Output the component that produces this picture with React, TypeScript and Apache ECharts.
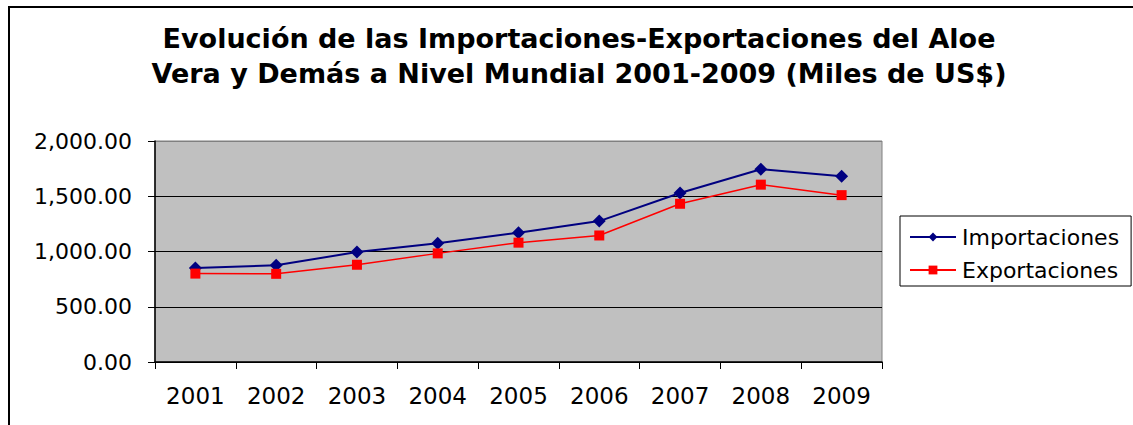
import React, { useEffect, useRef } from "react";
import * as echarts from "echarts";

const years = ["2001", "2002", "2003", "2004", "2005", "2006", "2007", "2008", "2009"];
const importaciones = [850, 875, 995, 1075, 1170, 1275, 1530, 1745, 1680];
const exportaciones = [800, 798, 880, 983, 1080, 1145, 1432, 1605, 1510];
const yTicks = { min: 0, max: 2000, interval: 500 };
const titleText =
  "Evolución de las Importaciones-Exportaciones del Aloe\nVera y Demás a Nivel Mundial 2001-2009 (Miles de US$)";

function fmt(v: number): string {
  const s = v.toFixed(2);
  const [i, d] = s.split(".");
  return i.replace(/\B(?=(\d{3})+(?!\d))/g, ",") + "." + d;
}

export default function App() {
  const ref = useRef<HTMLDivElement>(null);
  useEffect(() => {
    document.body.style.margin = "0";
    if (!ref.current) return;
    const chart = echarts.init(ref.current, undefined, { renderer: "svg" });
    chart.setOption({
      animation: false,
      backgroundColor: "#fff",
      title: {
        text: titleText,
        left: 574,
        top: 16,
        textAlign: "center",
        textStyle: {
          fontFamily: "DejaVu Sans",
          fontWeight: "bold",
          fontSize: 27,
          lineHeight: 35,
          color: "#000",
        },
      },
      graphic: [
        {
          type: "rect",
          shape: { x: 9, y: 7, width: 1200, height: 500 },
          style: { fill: "none", stroke: "#000", lineWidth: 2 },
          silent: true,
        },
      ],
      legend: {
        left: 900,
        top: 216,
        orient: "vertical",
        itemWidth: 46,
        itemHeight: 11,
        itemGap: 9,
        padding: [9, 12, 4, 9],
        borderColor: "#000",
        borderWidth: 1,
        backgroundColor: "#fff",
        textStyle: {
          fontFamily: "DejaVu Sans",
          fontSize: 22,
          lineHeight: 24,
          color: "#000",
          padding: [0, 0, 0, 1],
        },
        data: ["Importaciones", "Exportaciones"],
      },
      grid: {
        left: 155,
        top: 141,
        right: 251,
        bottom: 63,
        show: true,
        backgroundColor: "#C0C0C0",
        borderColor: "#808080",
        borderWidth: 1,
      },
      xAxis: {
        type: "category",
        data: years,
        boundaryGap: true,
        axisLine: { show: true, lineStyle: { color: "#000", width: 1.5 } },
        axisTick: { show: true, length: 7, interval: 0, lineStyle: { color: "#000" } },
        axisLabel: {
          fontFamily: "DejaVu Sans",
          fontSize: 23,
          color: "#000",
          margin: 22,
          interval: 0,
        },
      },
      yAxis: {
        type: "value",
        min: yTicks.min,
        max: yTicks.max,
        interval: yTicks.interval,
        axisLine: { show: true, lineStyle: { color: "#000", width: 1.5 } },
        axisTick: { show: true, length: 7, inside: false, lineStyle: { color: "#000" } },
        axisLabel: {
          fontFamily: "DejaVu Sans",
          fontSize: 22,
          color: "#000",
          margin: 23,
          formatter: (v: number) => fmt(v),
        },
        splitLine: {
          show: true,
          lineStyle: { color: ["#000", "#000", "#000", "#000", "#808080"], width: 1 },
        },
      },
      series: [
        {
          name: "Importaciones",
          type: "line",
          data: importaciones,
          symbol: "diamond",
          symbolSize: 13,
          color: "#000080",
          lineStyle: { color: "#000080", width: 2 },
          itemStyle: { color: "#000080" },
        },
        {
          name: "Exportaciones",
          type: "line",
          data: exportaciones,
          symbol: "rect",
          symbolSize: 10,
          color: "#FF0000",
          lineStyle: { color: "#FF0000", width: 1.5 },
          itemStyle: { color: "#FF0000" },
        },
      ],
    });
    return () => chart.dispose();
  }, []);
  return <div ref={ref} style={{ width: 1133, height: 425 }} />;
}
